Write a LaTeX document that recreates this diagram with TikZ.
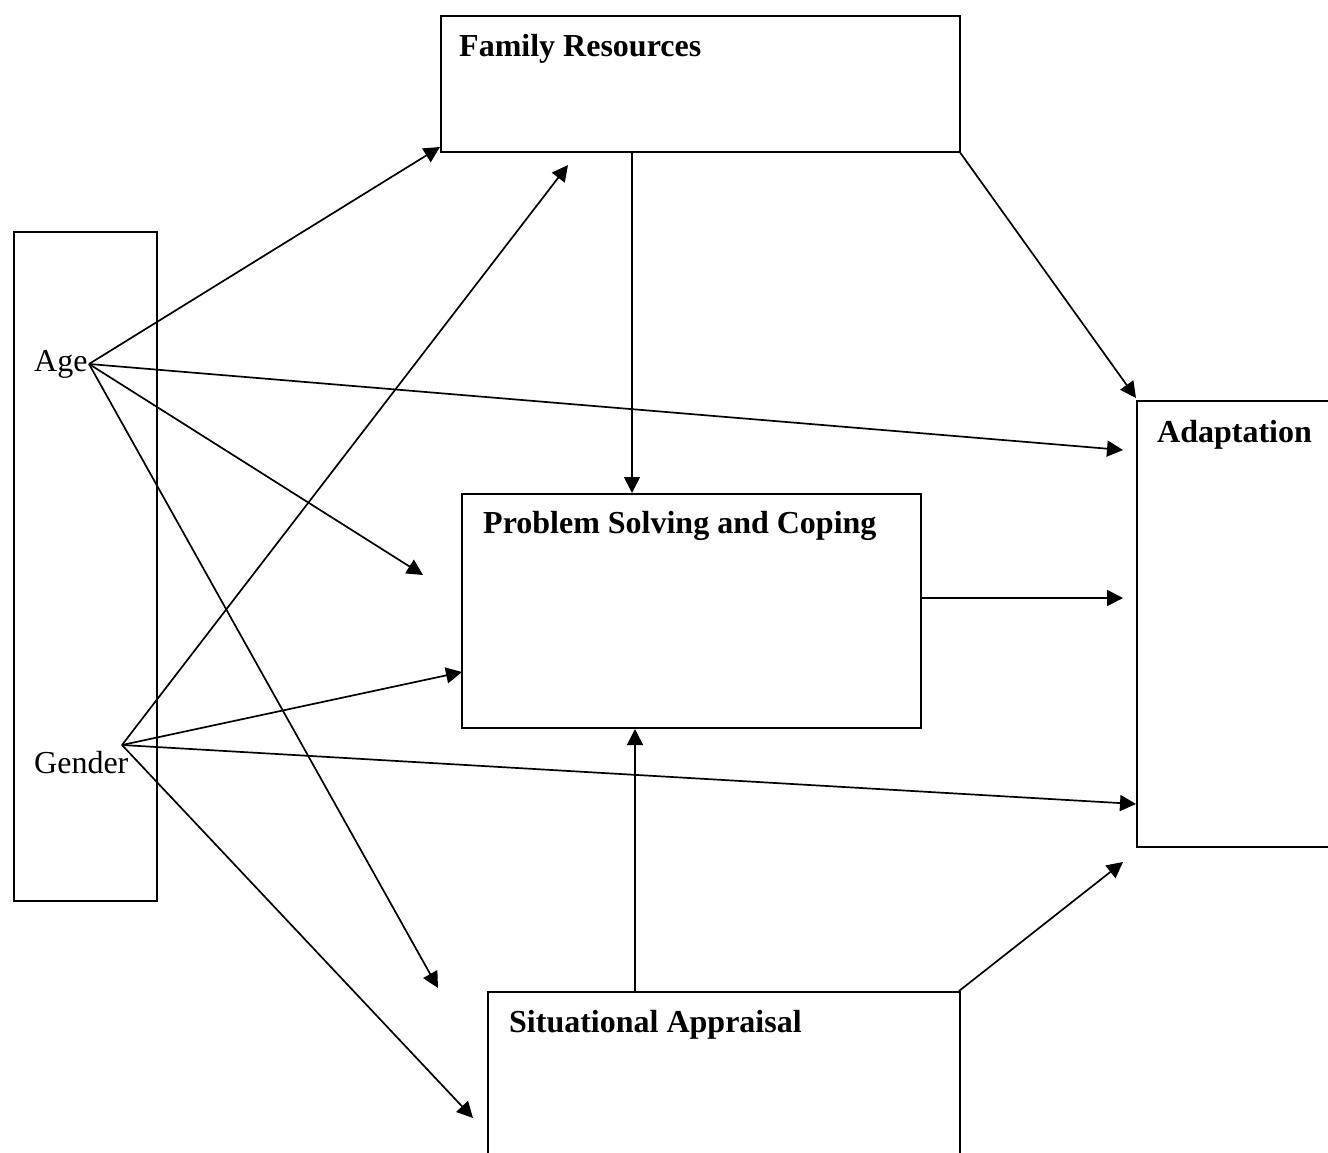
\documentclass[tikz,border=0pt]{standalone}
\usepackage{fontspec}
\setmainfont{Liberation Serif}
\usetikzlibrary{arrows.meta}
\begin{document}
\begin{tikzpicture}[x=1pt,y=-1pt,
  box/.style={draw,line width=1.7pt,rectangle,inner sep=0pt},
  lbl/.style={anchor=base west,inner sep=0pt,font=\fontsize{32}{38}\selectfont},
  blbl/.style={lbl,font=\fontsize{32}{38}\selectfont\bfseries},
  conn/.style={line width=1.7pt,-{Triangle[length=16pt,width=16pt]}}]
\useasboundingbox (0,0) rectangle (1328,1153);
\clip (0,0) rectangle (1328,1153);
% boxes
\node[box,anchor=north west,minimum width=143pt,minimum height=669pt] (left) at (13,231) {};
\node[box,anchor=north west,minimum width=519pt,minimum height=136pt] (fr) at (440,15) {};
\node[box,anchor=north west,minimum width=459pt,minimum height=234pt] (ps) at (461,493) {};
\node[box,anchor=north west,minimum width=240pt,minimum height=446pt] (ad) at (1136,400) {};
\node[box,anchor=north west,minimum width=472pt,minimum height=220pt] (sa) at (487,991) {};
% labels
\node[blbl] (frt) at (459,57) {Family Resources};
\node[blbl] (pst) at (483,533) {Problem Solving and Coping};
\node[blbl] (adt) at (1157,442) {Adaptation};
\node[blbl] (sat) at (509,1032) {Situational Appraisal};
\node[lbl] (age) at (34,371) {Age};
\node[lbl] (gender) at (34,773) {Gender};
% anchor points
\coordinate (a0) at (89,364);
\coordinate (g0) at (122,745);
\coordinate (e1) at (440,147);
\coordinate (e2) at (1123,450);
\coordinate (e3) at (423,575);
\coordinate (e4) at (438,988);
\coordinate (e5) at (568,165);
\coordinate (e6) at (462,672);
\coordinate (e7) at (1136,804);
\coordinate (e8) at (473,1118);
\coordinate (frb) at (632,151);
\coordinate (pst0) at (632,493);
\coordinate (frc) at (959,151);
\coordinate (e9) at (1136,398);
\coordinate (psr) at (920,598);
\coordinate (e10) at (1123,598);
\coordinate (sat0) at (635,991);
\coordinate (psb) at (635,729);
\coordinate (sac) at (959,991);
\coordinate (e11) at (1123,862);
% connectors
\draw[conn] (a0) -- (e1);
\draw[conn] (a0) -- (e2);
\draw[conn] (a0) -- (e3);
\draw[conn] (a0) -- (e4);
\draw[conn] (g0) -- (e5);
\draw[conn] (g0) -- (e6);
\draw[conn] (g0) -- (e7);
\draw[conn] (g0) -- (e8);
\draw[conn] (frb) -- (pst0);
\draw[conn] (frc) -- (e9);
\draw[conn] (psr) -- (e10);
\draw[conn] (sat0) -- (psb);
\draw[conn] (sac) -- (e11);
\end{tikzpicture}
\end{document}
